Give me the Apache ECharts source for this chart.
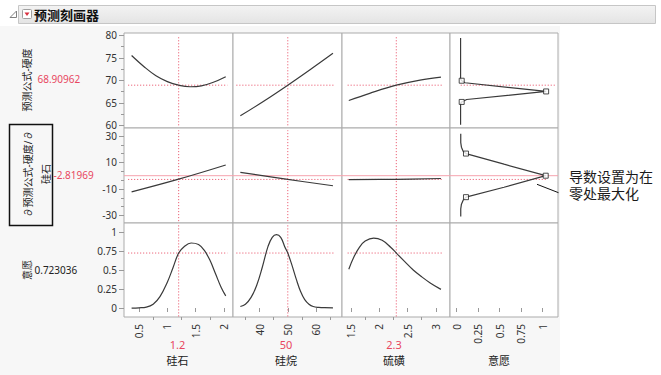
<!DOCTYPE html>
<html><head><meta charset="utf-8">
<script src="https://cdn.jsdelivr.net/npm/echarts@6/dist/echarts.min.js"></script>
<style>
html,body{margin:0;padding:0;background:#fff}
#wrap{position:relative;width:661px;height:375px;overflow:hidden}
#bg{position:absolute;left:0;top:26px;width:560px;height:349px;background:#f7f7f7}
#c{position:absolute;left:0;top:0;width:661px;height:375px}
</style>
</head><body><div id="wrap"><div id="bg"></div><div id="c"></div></div>
<script>
// ---------------- data ----------------
const factorNames = ['硅石', '硅烷', '硫磺'];
const responseTitle = '意愿';
const currentX = [1.2, 50, 2.3];
const currentHardness = 68.90962;
const currentDeriv = -2.81969;
const currentDesir = 0.723036;

// row 1: 预测公式-硬度
const silicaHardness = [[0.37,75.5],[0.6,72.9],[0.8,71.0],[1.0,69.7],[1.2,68.91],[1.4,68.56],[1.6,68.75],[1.8,69.5],[2.03,70.8]];
const silaneHardness = [[33.2,62.1],[41.6,65.4],[50,68.91],[58,72.4],[66,76.0]];
const sulfurHardness = [[1.46,65.5],[1.83,67.1],[2.3,68.91],[2.72,70.05],[3.09,70.7]];
// row 2: ∂预测公式-硬度/∂硅石
const silicaDeriv = [[0.37,-12.2],[1.2,-2.6],[2.03,8.1]];
const silaneDeriv = [[33.2,2.5],[50,-2.82],[66,-7.6]];
const sulfurDeriv = [[1.46,-3.0],[2.3,-2.7],[3.09,-2.1]];
// row 3: 意愿
const silicaDesir = [[0.37,0.0],[0.5,0.003],[0.63,0.012],[0.75,0.05],[0.87,0.15],[1.0,0.34],[1.1,0.53],[1.2,0.723],[1.3,0.81],[1.42,0.855],[1.55,0.835],[1.65,0.76],[1.75,0.63],[1.85,0.45],[1.95,0.27],[2.03,0.16]];
const silaneDesir = [[33.2,0.02],[35,0.05],[37,0.14],[39,0.30],[41,0.54],[43,0.81],[44.5,0.93],[46,0.965],[47.5,0.93],[49,0.8],[50,0.723],[51.5,0.56],[53,0.38],[54.5,0.22],[56,0.11],[57.5,0.05],[59,0.02],[61,0.008],[63,0.004],[66,0.003]];
const sulfurDesir = [[1.46,0.51],[1.55,0.67],[1.65,0.8],[1.75,0.88],[1.9,0.92],[2.05,0.89],[2.2,0.8],[2.3,0.723],[2.45,0.61],[2.6,0.5],[2.75,0.41],[2.9,0.33],[3.09,0.245]];
// column 4: desirability functions (x = 意愿, y = response)
const hardnessDesirCurve = [[0.045,79.4],[0.045,70.3],[0.058,69.9],[0.097,69.45],[1.04,67.52],[0.116,65.73],[0.07,65.3],[0.058,65.19],[0.045,64.8],[0.045,60.1]];
const hardnessDesirKnots = [[0.058,69.9],[1.04,67.52],[0.058,65.19]];
const derivDesirCurve = [[0.047,31.7],[0.047,25],[0.055,21.5],[0.075,18.5],[0.108,16.7],[0.55,8.7],[1.035,0],[0.55,-8.7],[0.108,-16.2],[0.075,-18.5],[0.055,-21.5],[0.047,-25],[0.047,-30.8]];
const derivDesirKnots = [[0.108,16.7],[1.035,0],[0.108,-16.2]];

// tick labels
const xTicks = [[0.5,1,1.5,2],[40,50,60],[1.5,2,2.5,3],[0,0.25,0.5,0.75,1]];
const xMinorTicks = [[0.75,1.25,1.75],[35,45,55,65],[1.75,2.25,2.75],[]];
const yTicks = [[60,65,70,75,80],[-30,-10,10,30],[0,0.25,0.5,0.75,1]];
const yMinorTicks = [[62.5,67.5,72.5,77.5],[-23.33,-16.67,-3.33,3.33,16.67,23.33],[]];

// ---------------- layout ----------------
const xRanges = [[0.236,2.158],[30.6,69.2],[1.34,3.25],[-0.078,1.178]];
const yRanges = [[59.4,80.5],[-35.7,36.0],[-0.118,1.118]];
const dotX = [[0.31,2.06],[31.8,66.5],[1.44,3.12]];
const dotXCol4 = [[0.047,1.14],[0.047,1.04]];
const dotY = [[60,79.9],[-34.3,34.2],[-0.11,1.09]];
const colX = [124,233,342,450,558];
const rowY = [33,128,223,317];
const leaderPx = [[537, 184.3], [558.5, 192.7]];

const profiles = [
  [silicaHardness, silicaDeriv, silicaDesir],
  [silaneHardness, silaneDeriv, silaneDesir],
  [sulfurHardness, sulfurDeriv, sulfurDesir]
];
const currentY = [currentHardness, currentDeriv, currentDesir];

const FONT = '"Noto Sans","Noto Sans CJK SC",sans-serif';
const RED = '#e8475f';
const CURVE = '#3a3a3a';

const grids = [], xAxes = [], yAxes = [], series = [];
for (let r = 0; r < 3; r++) {
  for (let c = 0; c < 4; c++) {
    const g = r * 4 + c;
    grids.push({left: colX[c], top: rowY[r], width: colX[c+1]-colX[c], height: rowY[r+1]-rowY[r],
      show: true, backgroundColor: '#fff', borderColor: '#ababab', borderWidth: 1});
    const bottom = r === 2, left = c === 0;
    xAxes.push({type: 'value', gridIndex: g, position: 'bottom', min: xRanges[c][0], max: xRanges[c][1],
      axisLine: {show: false}, splitLine: {show: false},
      axisTick: {show: bottom, length: 4, lineStyle: {color: '#999'}, customValues: xTicks[c]},
      axisLabel: {show: bottom, rotate: 90, customValues: xTicks[c], fontSize: 10, fontFamily: FONT, color: '#333', margin: 7}});
    yAxes.push({type: 'value', gridIndex: g, position: 'left', min: yRanges[r][0], max: yRanges[r][1],
      axisLine: {show: false}, splitLine: {show: false},
      axisTick: {show: left, length: 5, lineStyle: {color: '#999'}, customValues: yTicks[r]},
      axisLabel: {show: left, customValues: yTicks[r], fontSize: 10, fontFamily: FONT, color: '#333', margin: 7}});
  }
}
// minor tick axes
for (let c = 0; c < 4; c++) {
  if (!xMinorTicks[c].length) continue;
  xAxes.push({type: 'value', gridIndex: 8 + c, position: 'bottom', min: xRanges[c][0], max: xRanges[c][1],
    axisLine: {show: false}, splitLine: {show: false}, axisLabel: {show: false},
    axisTick: {show: true, length: 3, lineStyle: {color: '#999'}, customValues: xMinorTicks[c]}});
}
for (let r = 0; r < 3; r++) {
  if (!yMinorTicks[r].length) continue;
  yAxes.push({type: 'value', gridIndex: r * 4, position: 'left', min: yRanges[r][0], max: yRanges[r][1],
    axisLine: {show: false}, splitLine: {show: false}, axisLabel: {show: false},
    axisTick: {show: true, length: 3, lineStyle: {color: '#999'}, customValues: yMinorTicks[r]}});
}

function line(g, data, color, width, type, z) {
  series.push({type: 'line', xAxisIndex: g, yAxisIndex: g, data: data, symbol: 'none', silent: true,
    animation: false, z: z, lineStyle: {color: color, width: width, type: type}});
}

// zero reference line in derivative row
for (let c = 0; c < 4; c++) {
  line(4 + c, [[xRanges[c][0], 0], [xRanges[c][1], 0]], '#f5a3ae', 1, 'solid', 1);
}
for (let r = 0; r < 3; r++) {
  for (let c = 0; c < 3; c++) {
    const g = r * 4 + c;
    line(g, [[currentX[c], dotY[r][0]], [currentX[c], dotY[r][1]]], RED, 1, [1, 2], 2);
    line(g, [[dotX[c][0], currentY[r]], [dotX[c][1], currentY[r]]], RED, 1, [1, 2], 2);
    series.push({type: 'line', xAxisIndex: g, yAxisIndex: g, data: profiles[c][r], symbol: 'none',
      smooth: 0.4, silent: true, animation: false, z: 3, lineStyle: {color: CURVE, width: 1.2}});
  }
}
// column 4 desirability functions
line(3, [[dotXCol4[0][0], currentHardness], [dotXCol4[0][1], currentHardness]], RED, 1, [1, 2], 2);
line(7, [[dotXCol4[1][0], currentDeriv], [dotXCol4[1][1], currentDeriv]], RED, 1, [1, 2], 2);
line(3, hardnessDesirCurve, CURVE, 1.2, 'solid', 3);
line(7, derivDesirCurve, CURVE, 1.2, 'solid', 3);
[[3, hardnessDesirKnots], [7, derivDesirKnots]].forEach(([g, pts]) => {
  series.push({type: 'scatter', xAxisIndex: g, yAxisIndex: g, data: pts, symbol: 'rect', symbolSize: 5,
    silent: true, animation: false, z: 4, itemStyle: {color: '#fff', borderColor: '#222', borderWidth: 1}});
});

function txt(text, x, y, opts) {
  opts = opts || {};
  return {type: 'text', x: x, y: y, rotation: opts.rot || 0, silent: true, z: 10,
    style: {text: text, fill: opts.color || '#222', fontSize: opts.size || 10, fontWeight: opts.weight || 'normal',
      fontFamily: FONT, textAlign: opts.align || 'left', textVerticalAlign: 'middle'}};
}
const bottomCenters = [177.5, 286, 394, 499];
const graphics = [
  {type: 'rect', shape: {x: 18.5, y: 5.5, width: 637, height: 18}, silent: true, z: 5,
    style: {fill: new echarts.graphic.LinearGradient(0, 0, 0, 1, [{offset: 0, color: '#f3f3f3'}, {offset: 1, color: '#e4e4e4'}]), stroke: '#c6c6c6', lineWidth: 1}},
  {type: 'polygon', shape: {points: [[16.5, 11], [16.5, 17.5], [10, 17.5]]}, silent: true, z: 6,
    style: {fill: '#fff', stroke: '#808080', lineWidth: 1}},
  {type: 'rect', shape: {x: 22.5, y: 9.5, width: 9, height: 9, r: 1}, silent: true, z: 6,
    style: {fill: '#fff', stroke: '#a0a0a0', lineWidth: 1}},
  {type: 'polygon', shape: {points: [[24.5, 12.5], [29.5, 12.5], [27, 16]]}, silent: true, z: 7,
    style: {fill: '#d9303f'}},
  txt('预测刻画器', 34, 14.5, {size: 13, weight: 'bold', color: '#111'}),
  txt('预测公式-硬度', 27, 80, {rot: Math.PI / 2, align: 'center', size: 10}),
  txt(String(currentHardness), 37.5, 79, {color: RED, size: 10}),
  {type: 'rect', shape: {x: 9.5, y: 124.5, width: 43, height: 101}, silent: true, z: 6,
    style: {fill: 'none', stroke: '#111', lineWidth: 1.5}},
  txt('∂预测公式-硬度/∂', 28, 174, {rot: Math.PI / 2, align: 'center', size: 10}),
  txt('硅石', 46, 174, {rot: Math.PI / 2, align: 'center', size: 10}),
  txt(String(currentDeriv), 53.5, 174.5, {color: RED, size: 10}),
  txt(responseTitle, 27, 270, {rot: Math.PI / 2, align: 'center', size: 10}),
  txt(String(currentDesir), 34.5, 269.5, {size: 10}),
  txt('导数设置为在', 569, 176.2, {size: 14, color: '#1a1a1a'}),
  txt('零处最大化', 569, 193.8, {size: 14, color: '#1a1a1a'})
];
for (let c = 0; c < 3; c++) {
  graphics.push(txt(String(currentX[c]), bottomCenters[c], 344.2, {align: 'center', color: RED, size: 11}));
  graphics.push(txt(factorNames[c], bottomCenters[c], 360, {align: 'center', size: 11}));
}
graphics.push(txt(responseTitle, bottomCenters[3], 360, {align: 'center', size: 11}));

const chart = echarts.init(document.getElementById('c'), null, {renderer: 'svg', width: 661, height: 375});
const baseOption = {
  backgroundColor: 'transparent',
  animation: false,
  grid: grids,
  xAxis: xAxes,
  yAxis: yAxes,
  series: series,
  graphic: {z: 100, elements: graphics}
};
chart.setOption(baseOption);
// annotation leader line inside the derivative-desirability panel
const leader = leaderPx.map(p => chart.convertFromPixel({gridIndex: 7}, p));
series.push({type: 'line', xAxisIndex: 7, yAxisIndex: 7, data: leader, symbol: 'none', silent: true,
  animation: false, z: 5, clip: false, lineStyle: {color: '#111', width: 1}});
chart.setOption({series: series});
</script>
</body></html>
